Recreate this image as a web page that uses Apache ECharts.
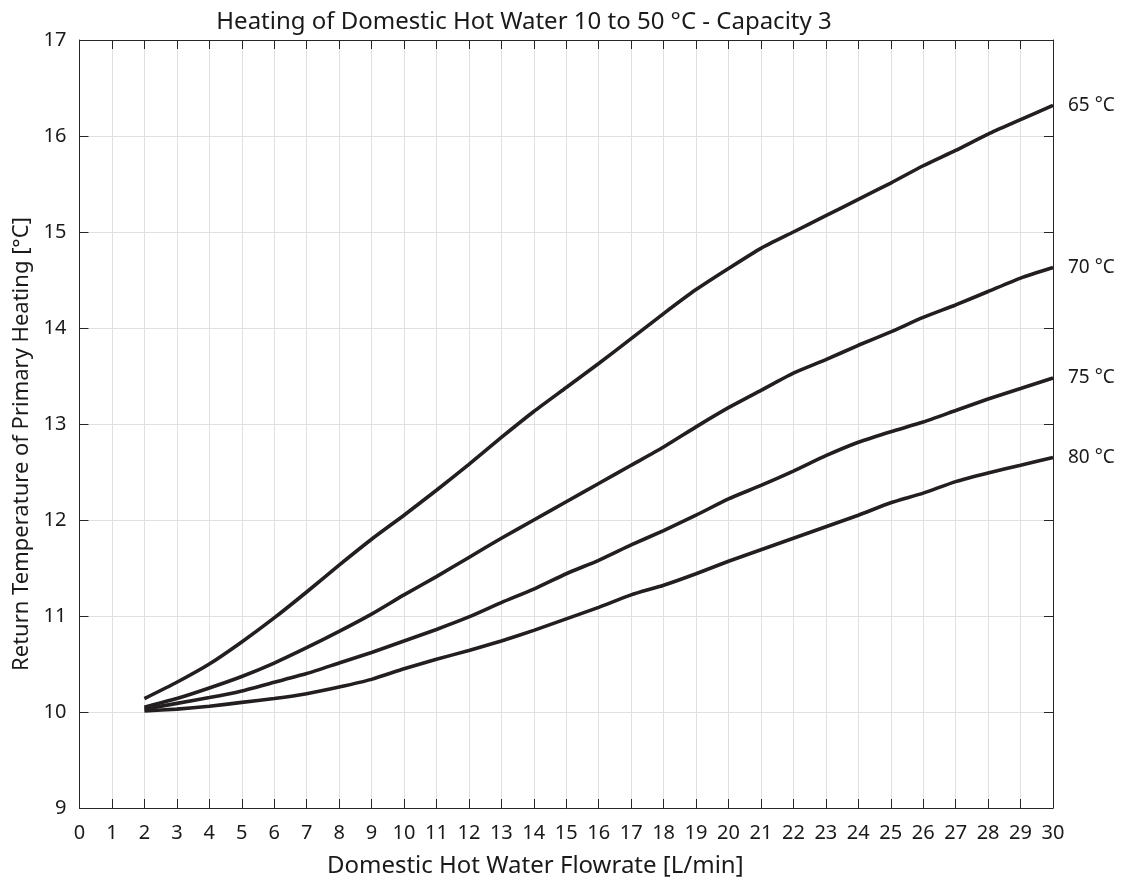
<!DOCTYPE html>
<html>
<head>
<meta charset="utf-8">
<title>Heating of Domestic Hot Water</title>
<script src="https://cdn.jsdelivr.net/npm/echarts@6/dist/echarts.min.js"></script>
<style>
  html, body { margin: 0; padding: 0; background: #fff; }
  #chart { width: 1129px; height: 886px; }
</style>
</head>
<body>
<div id="chart"></div>
<script>
// flowrate [L/min] and return temperatures [°C]
const flows = [2, 3, 4, 5, 6, 7, 8, 9, 10, 11, 12, 13, 14, 15, 16, 17, 18, 19, 20, 21, 22, 23, 24, 25, 26, 27, 28, 29, 30];
const seriesNames = ["65 °C", "70 °C", "75 °C", "80 °C"];
const t65 = [10.14, 10.31, 10.50, 10.73, 10.98, 11.25, 11.53, 11.80, 12.05, 12.31, 12.58, 12.86, 13.13, 13.38, 13.63, 13.89, 14.15, 14.40, 14.62, 14.83, 15.00, 15.17, 15.34, 15.51, 15.69, 15.85, 16.02, 16.17, 16.32];
const t70 = [10.05, 10.14, 10.25, 10.37, 10.51, 10.67, 10.84, 11.02, 11.22, 11.41, 11.61, 11.81, 12.00, 12.19, 12.38, 12.57, 12.76, 12.97, 13.17, 13.35, 13.53, 13.67, 13.82, 13.96, 14.11, 14.24, 14.38, 14.52, 14.63];
const t75 = [10.03, 10.09, 10.15, 10.22, 10.31, 10.40, 10.51, 10.62, 10.74, 10.86, 10.99, 11.14, 11.28, 11.44, 11.58, 11.74, 11.89, 12.05, 12.22, 12.36, 12.51, 12.67, 12.81, 12.92, 13.02, 13.14, 13.26, 13.37, 13.48];
const t80 = [10.01, 10.03, 10.06, 10.10, 10.14, 10.19, 10.26, 10.34, 10.45, 10.55, 10.64, 10.74, 10.85, 10.97, 11.09, 11.22, 11.32, 11.44, 11.57, 11.69, 11.81, 11.93, 12.05, 12.18, 12.28, 12.40, 12.49, 12.57, 12.65];

const FONT = "Noto Sans";
const INK = "#231f20";
const AXIS = "#262626";
const TEXT = "#1a1a1a";

const chart = echarts.init(document.getElementById("chart"), null, { renderer: "canvas" });

const pairs = (ys) => flows.map((x, i) => [x, ys[i]]);

const boxAxis = {
  axisLine: { show: true, onZero: false, lineStyle: { color: AXIS, width: 1 } },
  axisTick: { show: true, inside: true, length: 9, lineStyle: { color: AXIS } },
};

chart.setOption({
  animation: false,
  backgroundColor: "#fff",
  title: {
    text: "Heating of Domestic Hot Water 10 to 50 °C - Capacity 3",
    left: 519,
    textAlign: "center",
    top: 5,
    textStyle: { fontFamily: FONT, fontSize: 24, fontWeight: "normal", color: TEXT },
  },
  grid: { left: 79.5, right: 76, top: 40, bottom: 78, containLabel: false },
  xAxis: [
    {
      type: "value", min: 0, max: 30, interval: 1, position: "bottom",
      ...boxAxis,
      axisLabel: { fontFamily: FONT, fontSize: 20, color: TEXT, margin: 15 },
      splitLine: { show: true, lineStyle: { color: "#e0e0e0", width: 1 } },
      name: "Domestic Hot Water Flowrate [L/min]",
      nameLocation: "middle", nameGap: 46,
      nameTextStyle: { fontFamily: FONT, fontSize: 24, color: TEXT, padding: [0, 62, 0, 0] },
    },
    {
      type: "value", min: 0, max: 30, interval: 1, position: "top",
      ...boxAxis,
      axisLabel: { show: false },
      splitLine: { show: false },
    },
  ],
  yAxis: [
    {
      type: "value", min: 9, max: 17, interval: 1, position: "left",
      ...boxAxis,
      axisLabel: { fontFamily: FONT, fontSize: 20, color: TEXT, margin: 13 },
      splitLine: { show: true, lineStyle: { color: "#e0e0e0", width: 1 } },
      name: "Return Temperature of Primary Heating [°C]",
      nameLocation: "middle", nameGap: 45, nameRotate: 90,
      nameTextStyle: { fontFamily: FONT, fontSize: 22, color: TEXT, padding: [0, 40, 0, 0] },
    },
    {
      type: "value", min: 9, max: 17, interval: 1, position: "right",
      ...boxAxis,
      axisLabel: { show: false },
      splitLine: { show: false },
    },
  ],
  series: [t65, t70, t75, t80].map((ys, i) => ({
    name: seriesNames[i],
    type: "line",
    data: pairs(ys),
    showSymbol: false,
    smooth: 0.2,
    lineStyle: { color: INK, width: 3.6 },
    itemStyle: { color: INK },
    endLabel: {
      show: true,
      formatter: seriesNames[i],
      fontFamily: FONT,
      fontSize: 19,
      color: TEXT,
      distance: 15,
    },
    z: 3,
  })),
});
</script>
</body>
</html>
